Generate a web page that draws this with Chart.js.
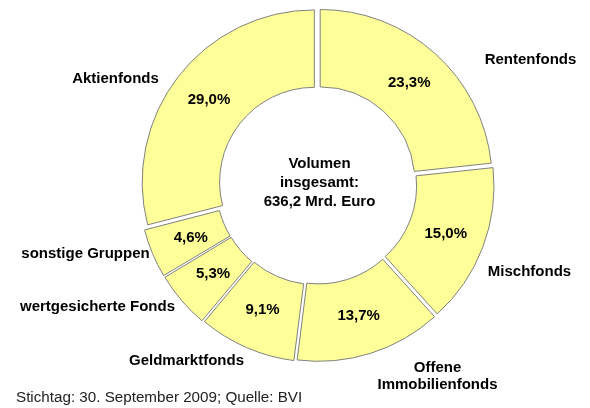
<!DOCTYPE html>
<html>
<head>
<meta charset="utf-8">
<script src="https://cdn.jsdelivr.net/npm/chart.js@4.4.1/dist/chart.umd.min.js"></script>
<style>
  html, body { margin: 0; padding: 0; background: #ffffff; }
  #wrap { position: relative; width: 590px; height: 408px; }
</style>
</head>
<body>
<div id="wrap"><canvas id="fondsChart" width="590" height="408"></canvas></div>
<script>
// Daten (Anteile in Prozent, im Uhrzeigersinn ab 12 Uhr)
const kategorien = ['Rentenfonds', 'Mischfonds', 'Offene Immobilienfonds', 'Geldmarktfonds',
                    'wertgesicherte Fonds', 'sonstige Gruppen', 'Aktienfonds'];
const anteile = [23.3, 15.0, 13.7, 9.1, 5.3, 4.6, 29.0];
const mitteText = ['Volumen', 'insgesamt:', '636,2 Mrd. Euro'];
const quelle = 'Stichtag: 30. September 2009; Quelle: BVI';

// Beschriftung außen: Zeilen je Kategorie
const namenZeilen = [['Rentenfonds'], ['Mischfonds'], ['Offene', 'Immobilienfonds'], ['Geldmarktfonds'],
                     ['wertgesicherte Fonds'], ['sonstige Gruppen'], ['Aktienfonds']];
// Lage der Namen relativ zur Ringmitte (Layout, keine Daten)
const namenVersatz = [[213, -125], [212, 87], [120, 192], [-131, 176], [-220, 122], [-232, 69], [-202, -106]];

const fontBold = 'bold 15px "Liberation Sans", Arial, sans-serif';
const fontNormal = '15.2px "Liberation Sans", Arial, sans-serif';

function formatProzent(v) {
    return v.toFixed(1).replace('.', ',') + '%';
}

// Plugin für alle Texte
const textPlugin = {
    id: 'texte',
    afterDatasetsDraw(chart) {
        const ctx = chart.ctx;
        const meta = chart.getDatasetMeta(0);
        const arc0 = meta.data[0];
        const cx = arc0.x, cy = arc0.y;
        ctx.save();
        ctx.fillStyle = '#000000';
        ctx.textAlign = 'center';
        ctx.textBaseline = 'middle';
        ctx.font = fontBold;

        // Prozentwerte in den Segmenten
        meta.data.forEach((arc, i) => {
            const p = arc.getProps(['startAngle', 'endAngle', 'innerRadius', 'outerRadius'], true);
            const mid = (p.startAngle + p.endAngle) / 2;
            const r = (p.innerRadius + p.outerRadius) / 2 + 4;
            ctx.fillText(formatProzent(anteile[i]), cx + Math.cos(mid) * r, cy + Math.sin(mid) * r);
        });

        // Kategorienamen
        namenZeilen.forEach((zeilen, i) => {
            const x = cx + namenVersatz[i][0];
            const y = cy + namenVersatz[i][1];
            const start = y - (zeilen.length - 1) * 17 / 2;
            zeilen.forEach((z, j) => ctx.fillText(z, x, start + j * 17));
        });

        // Text in der Mitte
        mitteText.forEach((z, j) => ctx.fillText(z, cx + 2, cy - 21 + j * 19));

        // Quelle
        ctx.font = fontNormal;
        ctx.textAlign = 'left';
        ctx.fillStyle = '#222222';
        ctx.fillText(quelle, 16, 398);
        ctx.restore();
    }
};

const ctx = document.getElementById('fondsChart').getContext('2d');
new Chart(ctx, {
    type: 'doughnut',
    data: {
        labels: kategorien,
        datasets: [{
            data: anteile,
            backgroundColor: '#FFFF99',
            borderColor: '#808080',
            borderWidth: 1,
            offset: 16,
            hoverOffset: 16
        }]
    },
    options: {
        responsive: false,
        animation: false,
        cutout: '55%',
        rotation: 0,
        layout: {
            padding: { left: 137, right: 92, top: 4, bottom: 43 }
        },
        plugins: {
            legend: { display: false },
            tooltip: { enabled: false }
        }
    },
    plugins: [textPlugin]
});
</script>
</body>
</html>
